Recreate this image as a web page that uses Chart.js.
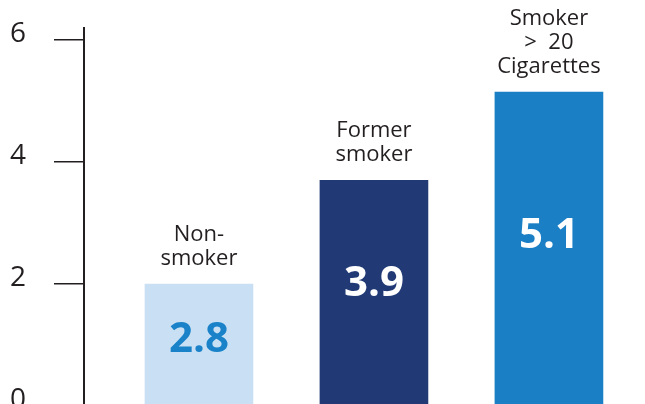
<!DOCTYPE html>
<html>
<head>
<meta charset="utf-8">
<script src="https://cdn.jsdelivr.net/npm/chart.js@4"></script>
<style>
  html, body { margin: 0; padding: 0; background: #fff; overflow: hidden; }
  #wrap { width: 645px; height: 406px; }
</style>
</head>
<body>
<div id="wrap"><canvas id="chart" width="645" height="406"></canvas></div>
<script>
const categories = [["Non-", "smoker"], ["Former", "smoker"], ["Smoker", ">  20", "Cigarettes"]];
const barHeights = [2.0, 3.7, 5.15];
const valueLabels = ["2.8", "3.9", "5.1"];
const yTicks = [0, 2, 4, 6];

const barColors = ["#c9e0f4", "#213a76", "#1a7fc4"];
const valueColors = ["#1a82c8", "#ffffff", "#ffffff"];
const ink = "#231f20";

// labels above and inside the bars
const barText = {
  id: "barText",
  afterDatasetsDraw(chart) {
    const ctx = chart.ctx;
    const meta = chart.getDatasetMeta(0);
    ctx.save();
    ctx.textAlign = "center";
    meta.data.forEach((bar, i) => {
      const lines = categories[i];
      ctx.fillStyle = ink;
      ctx.font = "22px 'Open Sans'";
      ctx.textBaseline = "alphabetic";
      lines.forEach((line, j) => {
        const y = bar.y - 19 - (lines.length - 1 - j) * 24;
        ctx.fillText(line, bar.x, y);
      });
      ctx.fillStyle = valueColors[i];
      ctx.font = "bold 42px 'Open Sans'";
      ctx.textBaseline = "middle";
      ctx.fillText(valueLabels[i], bar.x, bar.y + 0.46 * (bar.base - bar.y));
    });
    ctx.restore();
  }
};

new Chart(document.getElementById("chart"), {
  type: "bar",
  data: {
    datasets: [{
      data: barHeights.map((v, i) => ({ x: i + 1, y: v })),
      backgroundColor: barColors,
      borderWidth: 0,
      barThickness: 108
    }]
  },
  options: {
    responsive: false,
    animation: false,
    layout: { padding: { left: 10, top: 28, right: 0, bottom: 0 } },
    plugins: { legend: { display: false }, tooltip: { enabled: false } },
    scales: {
      x: { type: "linear", min: 0.343, max: 3.549, offset: false, display: false },
      y: {
        min: 0,
        max: 6.2,
        afterBuildTicks: s => { s.ticks = yTicks.map(v => ({ value: v })); },
        afterFit: s => { s.width = 74; s.paddingTop = 0; s.paddingBottom = 0; },
        grid: { drawOnChartArea: false, tickLength: 30, color: ink, lineWidth: 1.5 },
        border: { color: ink, width: 2 },
        ticks: {
          crossAlign: "far",
          labelOffset: -6,
          color: ink,
          font: { family: "'Open Sans'", size: 28 }
        }
      }
    }
  },
  plugins: [barText]
});
</script>
</body>
</html>
